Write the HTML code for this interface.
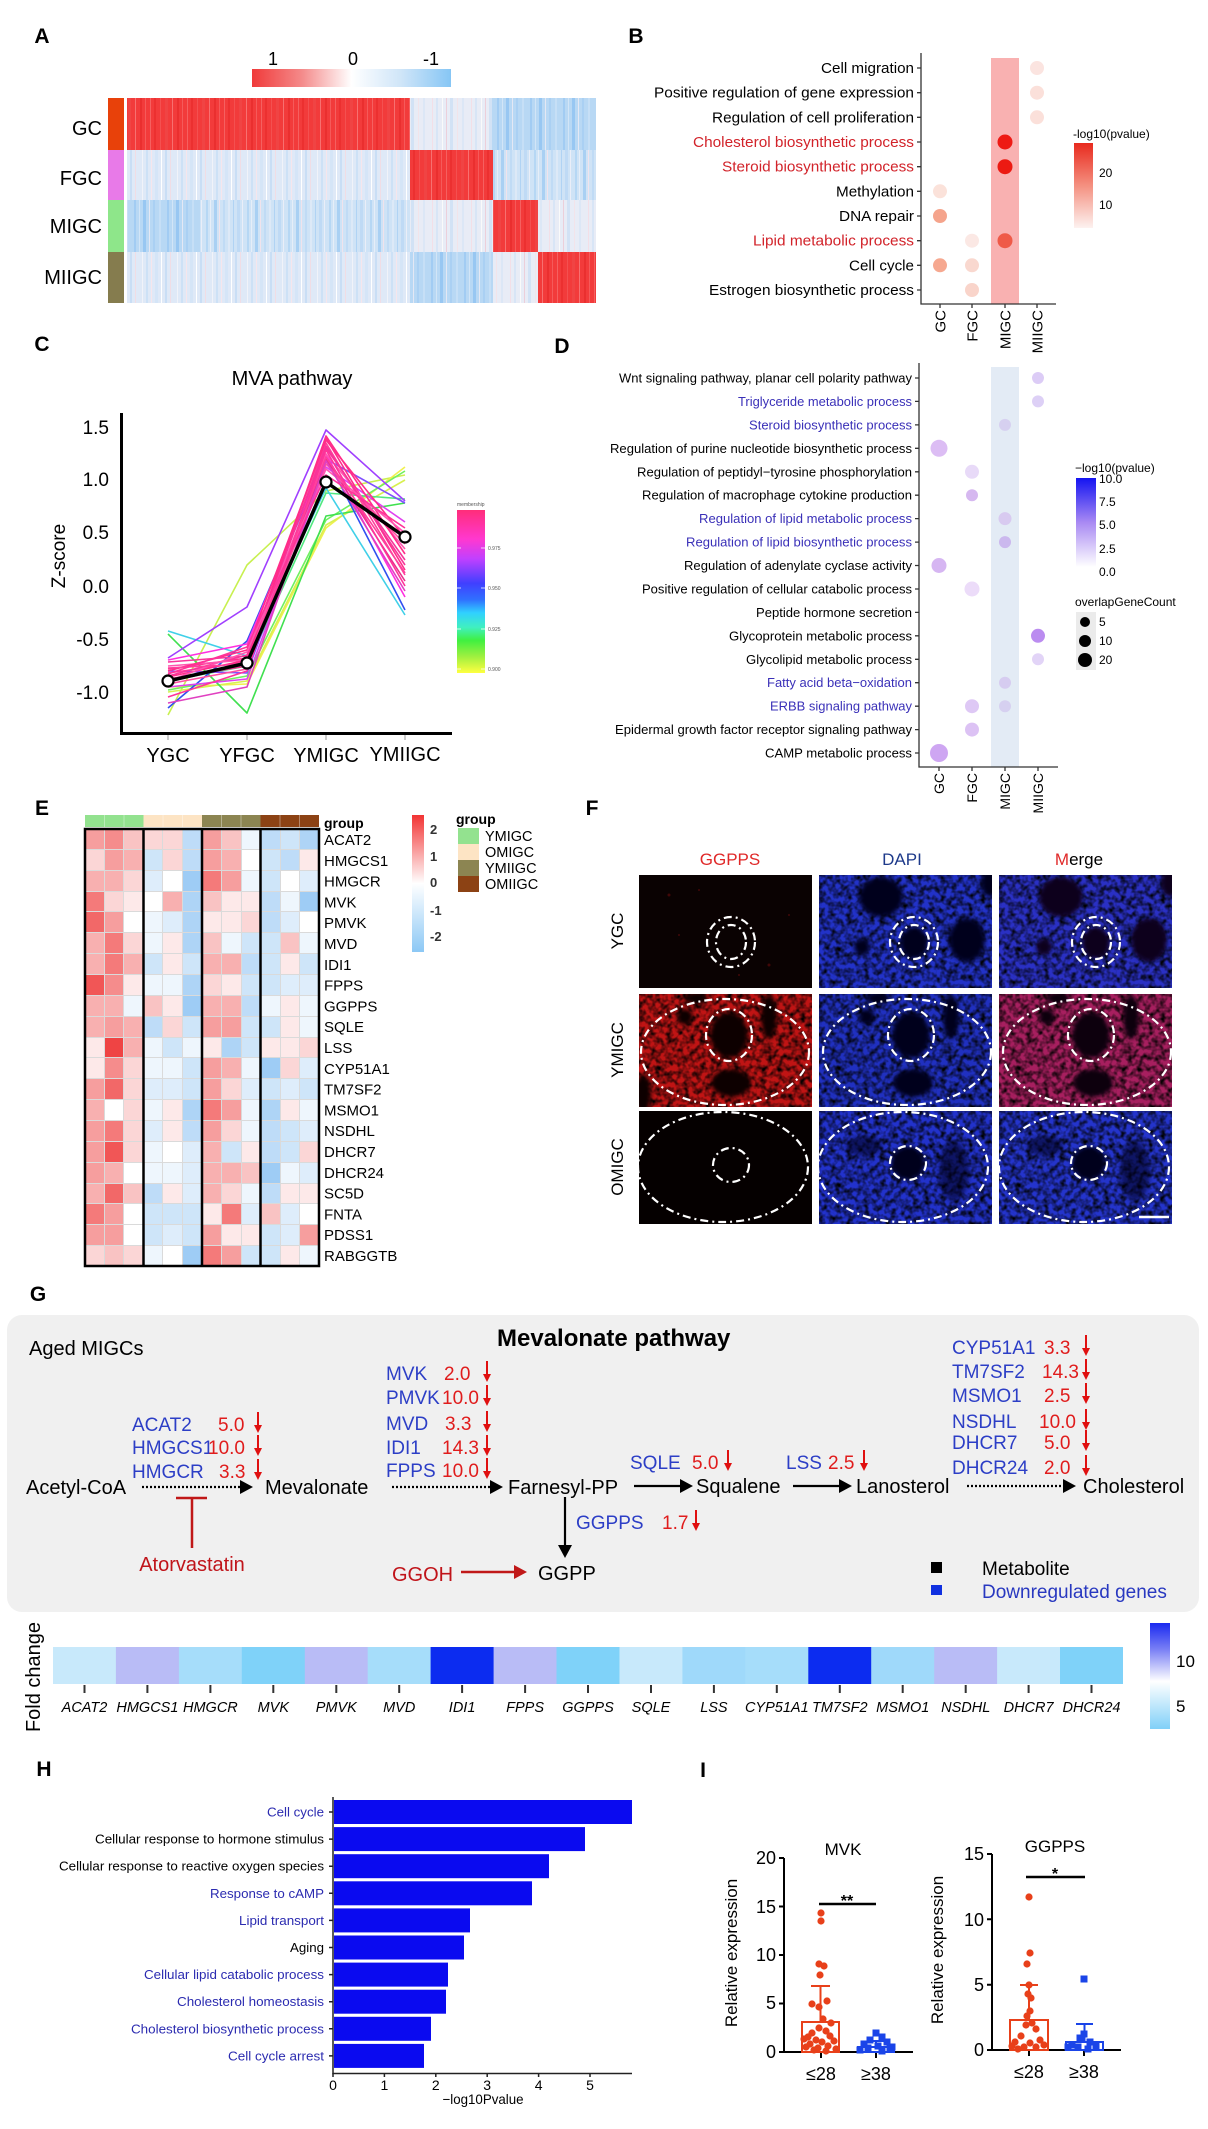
<!DOCTYPE html>
<html><head><meta charset="utf-8">
<style>
html,body{margin:0;padding:0;background:#fff;}
body{width:1208px;height:2129px;position:relative;overflow:hidden;font-family:"Liberation Sans",Arial,sans-serif;}
#eh{position:absolute;left:85px;top:829px;width:234px;height:437px;display:grid;grid-template-columns:repeat(12,1fr);grid-template-rows:repeat(21,1fr);gap:1px;background:#dadada;}
#eh i{display:block;background:#fff;}
#eh .z{background:#ffffff}
#eh .a{background:#fde9e9}#eh .b{background:#fbd6d6}#eh .c{background:#f9c3c3}#eh .d{background:#f8b0b0}#eh .e{background:#f69e9e}
#eh .f{background:#f58c8c}#eh .g{background:#f47a7a}#eh .h{background:#f26868}#eh .i{background:#f15656}#eh .j{background:#ef4444}
#eh .k{background:#eef6fd}#eh .l{background:#deedfb}#eh .m{background:#cee5f9}#eh .n{background:#bedcf8}#eh .o{background:#aed4f6}#eh .p{background:#9eccf5}#eh .q{background:#8ec4f3}
svg{position:absolute;left:0;top:0;}
</style></head><body>

<div id="eh">
<i class=e></i><i class=f></i><i class=c></i><i class=b></i><i class=b></i><i class=n></i><i class=e></i><i class=c></i><i class=k></i><i class=n></i><i class=m></i><i class=o></i>
<i class=b></i><i class=e></i><i class=d></i><i class=m></i><i class=b></i><i class=n></i><i class=e></i><i class=d></i><i class=z></i><i class=m></i><i class=n></i><i class=a></i>
<i class=d></i><i class=d></i><i class=b></i><i class=l></i><i class=z></i><i class=p></i><i class=g></i><i class=e></i><i class=k></i><i class=m></i><i class=z></i><i class=l></i>
<i class=g></i><i class=b></i><i class=a></i><i class=z></i><i class=d></i><i class=o></i><i class=c></i><i class=a></i><i class=a></i><i class=n></i><i class=k></i><i class=p></i>
<i class=h></i><i class=e></i><i class=z></i><i class=k></i><i class=l></i><i class=o></i><i class=a></i><i class=a></i><i class=b></i><i class=n></i><i class=l></i><i class=z></i>
<i class=d></i><i class=g></i><i class=b></i><i class=k></i><i class=a></i><i class=o></i><i class=c></i><i class=k></i><i class=m></i><i class=m></i><i class=c></i><i class=k></i>
<i class=d></i><i class=g></i><i class=d></i><i class=m></i><i class=a></i><i class=m></i><i class=d></i><i class=d></i><i class=n></i><i class=m></i><i class=a></i><i class=m></i>
<i class=i></i><i class=f></i><i class=a></i><i class=k></i><i class=k></i><i class=o></i><i class=b></i><i class=a></i><i class=m></i><i class=m></i><i class=l></i><i class=l></i>
<i class=d></i><i class=d></i><i class=k></i><i class=c></i><i class=a></i><i class=p></i><i class=d></i><i class=d></i><i class=n></i><i class=k></i><i class=a></i><i class=k></i>
<i class=d></i><i class=e></i><i class=d></i><i class=n></i><i class=b></i><i class=m></i><i class=e></i><i class=e></i><i class=m></i><i class=m></i><i class=a></i><i class=k></i>
<i class=a></i><i class=j></i><i class=d></i><i class=k></i><i class=m></i><i class=k></i><i class=a></i><i class=o></i><i class=m></i><i class=a></i><i class=a></i><i class=b></i>
<i class=a></i><i class=f></i><i class=b></i><i class=k></i><i class=k></i><i class=m></i><i class=e></i><i class=d></i><i class=k></i><i class=p></i><i class=b></i><i class=l></i>
<i class=e></i><i class=h></i><i class=b></i><i class=l></i><i class=l></i><i class=m></i><i class=e></i><i class=b></i><i class=l></i><i class=m></i><i class=l></i><i class=m></i>
<i class=d></i><i class=z></i><i class=b></i><i class=k></i><i class=a></i><i class=o></i><i class=g></i><i class=e></i><i class=k></i><i class=o></i><i class=a></i><i class=k></i>
<i class=e></i><i class=g></i><i class=b></i><i class=l></i><i class=a></i><i class=n></i><i class=e></i><i class=b></i><i class=k></i><i class=n></i><i class=m></i><i class=l></i>
<i class=e></i><i class=i></i><i class=b></i><i class=k></i><i class=z></i><i class=l></i><i class=d></i><i class=m></i><i class=a></i><i class=n></i><i class=m></i><i class=b></i>
<i class=e></i><i class=d></i><i class=z></i><i class=k></i><i class=k></i><i class=l></i><i class=d></i><i class=d></i><i class=c></i><i class=p></i><i class=k></i><i class=l></i>
<i class=d></i><i class=h></i><i class=c></i><i class=n></i><i class=a></i><i class=l></i><i class=d></i><i class=b></i><i class=k></i><i class=n></i><i class=a></i><i class=a></i>
<i class=g></i><i class=e></i><i class=z></i><i class=m></i><i class=m></i><i class=m></i><i class=a></i><i class=g></i><i class=l></i><i class=c></i><i class=l></i><i class=z></i>
<i class=e></i><i class=e></i><i class=z></i><i class=m></i><i class=l></i><i class=m></i><i class=e></i><i class=a></i><i class=a></i><i class=m></i><i class=l></i><i class=e></i>
<i class=b></i><i class=c></i><i class=b></i><i class=k></i><i class=z></i><i class=p></i><i class=g></i><i class=e></i><i class=m></i><i class=m></i><i class=a></i><i class=k></i>
</div>

<svg width="1208" height="2129" viewBox="0 0 1208 2129" xmlns="http://www.w3.org/2000/svg" font-family="'Liberation Sans', Arial, sans-serif">
<defs>
 <pattern id="pR" width="37" height="10" patternUnits="userSpaceOnUse">
  <rect width="37" height="10" fill="#f23b3b"/>
  <rect x="2" width="1" height="10" fill="#f56060"/><rect x="6" width="2" height="10" fill="#ec3030"/>
  <rect x="12" width="1" height="10" fill="#f45050"/><rect x="17" width="3" height="10" fill="#f04444"/>
  <rect x="24" width="1" height="10" fill="#f77070"/><rect x="29" width="2" height="10" fill="#ea2f2f"/>
  <rect x="34" width="1" height="10" fill="#f55a5a"/>
 </pattern>
 <pattern id="pB" width="41" height="10" patternUnits="userSpaceOnUse">
  <rect width="41" height="10" fill="#cfe3f6"/>
  <rect x="1" width="2" height="10" fill="#b6d7f4"/><rect x="5" width="1" height="10" fill="#e6eef8"/>
  <rect x="9" width="3" height="10" fill="#a9d0f3"/><rect x="14" width="1" height="10" fill="#f0e3ec"/>
  <rect x="18" width="2" height="10" fill="#c0dbf5"/><rect x="23" width="2" height="10" fill="#dde9f7"/>
  <rect x="28" width="1" height="10" fill="#b0d3f4"/><rect x="32" width="3" height="10" fill="#bfdaf5"/>
  <rect x="37" width="1" height="10" fill="#eaeef8"/>
 </pattern>
 <pattern id="pBs" width="33" height="10" patternUnits="userSpaceOnUse">
  <rect width="33" height="10" fill="#b8d8f4"/>
  <rect x="2" width="2" height="10" fill="#a2ccf3"/><rect x="7" width="1" height="10" fill="#d2e5f7"/>
  <rect x="11" width="3" height="10" fill="#98c7f2"/><rect x="17" width="1" height="10" fill="#e4e8f4"/>
  <rect x="21" width="2" height="10" fill="#aad0f3"/><rect x="27" width="2" height="10" fill="#c6dff6"/>
 </pattern>
 <pattern id="pP" width="39" height="10" patternUnits="userSpaceOnUse">
  <rect width="39" height="10" fill="#e8ecf6"/>
  <rect x="3" width="1" height="10" fill="#f3dfe7"/><rect x="7" width="2" height="10" fill="#d8e5f6"/>
  <rect x="13" width="1" height="10" fill="#fafafa"/><rect x="17" width="1" height="10" fill="#eccfda"/>
  <rect x="21" width="3" height="10" fill="#d2e2f5"/><rect x="28" width="1" height="10" fill="#f2e4ea"/>
  <rect x="33" width="2" height="10" fill="#dce7f6"/>
 </pattern>
 <pattern id="pW" width="35" height="10" patternUnits="userSpaceOnUse">
  <rect width="35" height="10" fill="#dfe9f7"/>
  <rect x="2" width="1" height="10" fill="#f1f3f9"/><rect x="6" width="2" height="10" fill="#cde1f6"/>
  <rect x="11" width="1" height="10" fill="#f6e6ec"/><rect x="15" width="3" height="10" fill="#d5e5f7"/>
  <rect x="21" width="1" height="10" fill="#ffffff"/><rect x="25" width="2" height="10" fill="#c9def5"/>
  <rect x="30" width="1" height="10" fill="#f0dde5"/>
 </pattern>
 <linearGradient id="gA" x1="0" y1="0" x2="1" y2="0">
  <stop offset="0" stop-color="#f03a3a"/><stop offset="0.25" stop-color="#f48a8a"/><stop offset="0.5" stop-color="#ffffff"/><stop offset="0.75" stop-color="#cfe5f8"/><stop offset="1" stop-color="#86c6f5"/>
 </linearGradient>
 <linearGradient id="gB" x1="0" y1="0" x2="0" y2="1">
  <stop offset="0" stop-color="#e82a1e"/><stop offset="0.5" stop-color="#f49080"/><stop offset="1" stop-color="#fdf2f0"/>
 </linearGradient>
 <linearGradient id="gD" x1="0" y1="0" x2="0" y2="1">
  <stop offset="0" stop-color="#1414f2"/><stop offset="0.5" stop-color="#a98af3"/><stop offset="1" stop-color="#ffffff"/>
 </linearGradient>
 <linearGradient id="gC" x1="0" y1="0" x2="0" y2="1">
  <stop offset="0" stop-color="#ff2d7a"/><stop offset="0.18" stop-color="#ff38d0"/><stop offset="0.3" stop-color="#c040ff"/><stop offset="0.45" stop-color="#4040ff"/><stop offset="0.55" stop-color="#3070ff"/><stop offset="0.63" stop-color="#30d0ff"/><stop offset="0.72" stop-color="#40f0c0"/><stop offset="0.8" stop-color="#40f040"/><stop offset="0.9" stop-color="#a0f040"/><stop offset="1" stop-color="#ffff40"/>
 </linearGradient>
 <linearGradient id="gE" x1="0" y1="0" x2="0" y2="1">
  <stop offset="0" stop-color="#f23434"/><stop offset="0.5" stop-color="#ffffff"/><stop offset="1" stop-color="#8cc8f5"/>
 </linearGradient>
 <linearGradient id="gG" x1="0" y1="0" x2="0" y2="1">
  <stop offset="0" stop-color="#1a2af0"/><stop offset="0.25" stop-color="#7a80f5"/><stop offset="0.55" stop-color="#ffffff"/><stop offset="1" stop-color="#80d0f8"/>
 </linearGradient>
 <filter id="tex" x="0" y="0" width="1" height="1" filterUnits="objectBoundingBox">
  <feTurbulence type="fractalNoise" baseFrequency="0.18" numOctaves="2" seed="7"/>
  <feColorMatrix type="matrix" values="0 0 0 0 0  0 0 0 0 0  0 0 0 0 0  2.2 0 0 0 -0.8"/>
 </filter>
 <filter id="bl" x="-0.5" y="-0.5" width="2" height="2"><feGaussianBlur stdDeviation="2.5"/></filter>
</defs>

<!-- ============ PANEL A ============ -->
<text x="42" y="43" text-anchor="middle" font-size="21" font-weight="bold">A</text>
<rect x="252" y="69" width="199" height="18" fill="url(#gA)"/>
<g font-size="18" text-anchor="middle"><text x="273" y="65">1</text><text x="353" y="65">0</text><text x="431" y="65">-1</text></g>
<rect x="108" y="98" width="16" height="52" fill="#e8410a"/>
<rect x="108" y="150" width="16" height="50" fill="#e87ae8"/>
<rect x="108" y="200" width="16" height="52" fill="#8ee68a"/>
<rect x="108" y="252" width="16" height="51" fill="#857c4e"/>
<g font-size="20" text-anchor="end">
 <text x="102" y="135">GC</text><text x="102" y="185">FGC</text><text x="102" y="233">MIGC</text><text x="102" y="284">MIIGC</text>
</g>
<rect x="127" y="98" width="283" height="52" fill="url(#pR)"/>
<rect x="410" y="98" width="82" height="52" fill="url(#pP)"/>
<rect x="492" y="98" width="104" height="52" fill="url(#pBs)"/>
<rect x="127" y="150" width="283" height="50" fill="url(#pW)"/>
<rect x="410" y="150" width="83" height="50" fill="url(#pR)"/>
<rect x="493" y="150" width="103" height="50" fill="url(#pB)"/>
<rect x="127" y="200" width="73" height="52" fill="url(#pBs)"/>
<rect x="200" y="200" width="210" height="52" fill="url(#pB)"/>
<rect x="410" y="200" width="83" height="52" fill="url(#pP)"/>
<rect x="493" y="200" width="45" height="52" fill="url(#pR)"/>
<rect x="538" y="200" width="58" height="52" fill="url(#pP)"/>
<rect x="127" y="252" width="283" height="51" fill="url(#pW)"/>
<rect x="410" y="252" width="83" height="51" fill="url(#pBs)"/>
<rect x="493" y="252" width="45" height="51" fill="url(#pP)"/>
<rect x="538" y="252" width="58" height="51" fill="url(#pR)"/>

<!-- ============ PANEL B ============ -->
<text x="636" y="43" text-anchor="middle" font-size="21" font-weight="bold">B</text>
<rect x="991" y="58" width="28" height="246" fill="#f9b1b1"/>
<g stroke="#333" stroke-width="1.3" fill="none">
 <path d="M921 53 V304 H1056"/>
 <path d="M917 68H921M917 92.7H921M917 117.3H921M917 142H921M917 166.7H921M917 191.3H921M917 216H921M917 240.7H921M917 265.3H921M917 290H921"/>
 <path d="M940 304V308M972 304V308M1005 304V308M1037 304V308"/>
</g>
<g font-size="15" text-anchor="end">
 <text x="914" y="73" textLength="93" lengthAdjust="spacingAndGlyphs">Cell migration</text>
 <text x="914" y="97.7" textLength="260" lengthAdjust="spacingAndGlyphs">Positive regulation of gene expression</text>
 <text x="914" y="122.3" textLength="202" lengthAdjust="spacingAndGlyphs">Regulation of cell proliferation</text>
 <text x="914" y="147" textLength="221" lengthAdjust="spacingAndGlyphs" fill="#d2232a">Cholesterol biosynthetic process</text>
 <text x="914" y="171.7" textLength="192" lengthAdjust="spacingAndGlyphs" fill="#d2232a">Steroid biosynthetic process</text>
 <text x="914" y="196.3" textLength="78" lengthAdjust="spacingAndGlyphs">Methylation</text>
 <text x="914" y="221" textLength="75" lengthAdjust="spacingAndGlyphs">DNA repair</text>
 <text x="914" y="245.7" textLength="161" lengthAdjust="spacingAndGlyphs" fill="#d2232a">Lipid metabolic process</text>
 <text x="914" y="270.3" textLength="65" lengthAdjust="spacingAndGlyphs">Cell cycle</text>
 <text x="914" y="295" textLength="205" lengthAdjust="spacingAndGlyphs">Estrogen biosynthetic process</text>
</g>
<g>
 <circle cx="1037" cy="68" r="7" fill="#fbe4e0"/>
 <circle cx="1037" cy="92.7" r="7" fill="#fbe0da"/>
 <circle cx="1037" cy="117.3" r="7" fill="#fbe0da"/>
 <circle cx="1005" cy="142" r="7.5" fill="#ee1a14"/>
 <circle cx="1005" cy="166.7" r="7.5" fill="#ec1a12"/>
 <circle cx="940" cy="191.3" r="7" fill="#fbe2da"/>
 <circle cx="940" cy="216" r="7" fill="#f5a48c"/>
 <circle cx="972" cy="240.7" r="7" fill="#fbe8e4"/>
 <circle cx="1005" cy="240.7" r="7.5" fill="#ef5a48"/>
 <circle cx="940" cy="265.3" r="7" fill="#f6a890"/>
 <circle cx="972" cy="265.3" r="7" fill="#f9d8cf"/>
 <circle cx="972" cy="290" r="7" fill="#f9d4ca"/>
</g>
<g font-size="15" text-anchor="end">
 <text transform="translate(945.5,310) rotate(-90)">GC</text>
 <text transform="translate(977.5,310) rotate(-90)">FGC</text>
 <text transform="translate(1010.5,310) rotate(-90)">MIGC</text>
 <text transform="translate(1042.5,310) rotate(-90)">MIIGC</text>
</g>
<text x="1073" y="138" font-size="12">-log10(pvalue)</text>
<rect x="1074" y="143" width="19" height="85" fill="url(#gB)"/>
<g font-size="12"><text x="1099" y="177">20</text><text x="1099" y="209">10</text></g>

<!-- ============ PANEL C ============ -->
<text x="42" y="351" text-anchor="middle" font-size="21" font-weight="bold">C</text>
<text x="292" y="385" text-anchor="middle" font-size="20">MVA pathway</text>
<g font-size="19" text-anchor="end">
 <text x="109" y="434">1.5</text><text x="109" y="486">1.0</text><text x="109" y="539">0.5</text>
 <text x="109" y="593">0.0</text><text x="109" y="646">-0.5</text><text x="109" y="699">-1.0</text>
</g>
<text transform="translate(65,556) rotate(-90)" text-anchor="middle" font-size="19">Z-score</text>
<g fill="none" stroke-width="1.6" stroke-linejoin="round">
 <polyline stroke="#c8f050" points="168,715 247,565 326,491 405,475"/>
 <polyline stroke="#f0f050" points="168,687 247,684 326,528 405,467"/>
 <polyline stroke="#70f060" points="168,690 247,676 326,520 405,471"/>
 <polyline stroke="#d8f050" points="168,692 247,681 326,525 405,480"/>
 <polyline stroke="#50e880" points="168,681 247,666 326,493 405,499"/>
 <polyline stroke="#40e050" points="168,634 247,713 326,516 405,503"/>
 <polyline stroke="#40d0e8" points="168,631 247,656 326,488 405,615"/>
 <polyline stroke="#3050f0" points="168,708 247,641 326,457 405,610"/>
 <polyline stroke="#8050ff" points="168,671 247,673 326,459 405,503"/>
 <polyline stroke="#a040ff" points="168,658 247,607 326,430 405,501"/>
 <polyline stroke="#e040f0" points="168,687 247,679 326,467 405,522"/>
 <polyline stroke="#ff30e0" points="168,660 247,644 326,454 405,597"/>
 <polyline stroke="#ff2d8a" points="168,669 247,658 326,438 405,570"/>
 <polyline stroke="#ff3f9c" points="168,673 247,662 326,443 405,575"/>
 <polyline stroke="#f7359a" points="168,676 247,655 326,448 405,560"/>
 <polyline stroke="#ff55b0" points="168,666 247,660 326,454 405,549"/>
 <polyline stroke="#e8308c" points="168,679 247,666 326,459 405,581"/>
 <polyline stroke="#ff2d8a" points="168,671 247,650 326,440 405,538"/>
 <polyline stroke="#ff4fa0" points="168,684 247,669 326,464 405,544"/>
 <polyline stroke="#f7359a" points="168,662 247,656 326,446 405,565"/>
 <polyline stroke="#ff3399" points="168,697 247,671 326,450 405,586"/>
 <polyline stroke="#ff2d8a" points="168,677 247,660 326,436 405,554"/>
 <polyline stroke="#ff55b0" points="168,681 247,652 326,469 405,533"/>
 <polyline stroke="#ff3f9c" points="168,668 247,664 326,457 405,573"/>
 <polyline stroke="#e040c0" points="168,703 247,687 326,461 405,591"/>
 <polyline stroke="#ff3399" points="168,674 247,647 326,475 405,528"/>
</g>
<polyline fill="none" stroke="#000" stroke-width="3.5" points="168,681 247,663 326,482 405,537"/>
<g fill="#fff" stroke="#000" stroke-width="2.2">
 <circle cx="168" cy="681" r="5.5"/><circle cx="247" cy="663" r="5.5"/><circle cx="326" cy="482" r="5.5"/><circle cx="405" cy="537" r="5.5"/>
</g>
<path d="M121.5 413 V733.5 H452" fill="none" stroke="#000" stroke-width="3"/>
<g stroke="#999" stroke-width="1"><path d="M168 735V740M247 735V740M326 735V740M405 735V740"/></g>
<g font-size="20" text-anchor="middle">
 <text x="168" y="762">YGC</text><text x="247" y="762">YFGC</text><text x="326" y="762">YMIGC</text><text x="405" y="761">YMIIGC</text>
</g>
<text x="457" y="506" font-size="5" fill="#555">membership</text>
<rect x="457" y="510" width="28" height="163" fill="url(#gC)"/>
<g stroke="#fff" stroke-width="0.8"><path d="M457 548h4M481 548h4M457 588h4M481 588h4M457 629h4M481 629h4M457 669h4M481 669h4"/></g>
<g font-size="5" fill="#555"><text x="488" y="550">0.975</text><text x="488" y="590">0.950</text><text x="488" y="631">0.925</text><text x="488" y="671">0.900</text></g>

<!-- ============ PANEL D ============ -->
<text x="562" y="353" text-anchor="middle" font-size="21" font-weight="bold">D</text>
<rect x="991" y="367" width="28" height="400" fill="#e3ebf5"/>
<g stroke="#333" stroke-width="1.3" fill="none">
 <path d="M919 363 V767 H1058"/>
 <path d="M915 378h4M915 401.4h4M915 424.9h4M915 448.3h4M915 471.8h4M915 495.2h4M915 518.6h4M915 542.1h4M915 565.5h4M915 589h4M915 612.4h4M915 635.8h4M915 659.3h4M915 682.7h4M915 706.2h4M915 729.6h4M915 753h4"/>
 <path d="M939 767v4M972 767v4M1005 767v4M1038 767v4"/>
</g>
<g font-size="13" text-anchor="end">
 <text x="912" y="382.5" textLength="293" lengthAdjust="spacingAndGlyphs">Wnt signaling pathway, planar cell polarity pathway</text>
 <text x="912" y="405.9" textLength="174" lengthAdjust="spacingAndGlyphs" fill="#3a30b8">Triglyceride metabolic process</text>
 <text x="912" y="429.4" textLength="163" lengthAdjust="spacingAndGlyphs" fill="#3a30b8">Steroid biosynthetic process</text>
 <text x="912" y="452.8" textLength="302" lengthAdjust="spacingAndGlyphs">Regulation of purine nucleotide biosynthetic process</text>
 <text x="912" y="476.3" textLength="275" lengthAdjust="spacingAndGlyphs">Regulation of peptidyl−tyrosine phosphorylation</text>
 <text x="912" y="499.7" textLength="270" lengthAdjust="spacingAndGlyphs">Regulation of macrophage cytokine production</text>
 <text x="912" y="523.1" textLength="213" lengthAdjust="spacingAndGlyphs" fill="#3a30b8">Regulation of lipid metabolic process</text>
 <text x="912" y="546.6" textLength="226" lengthAdjust="spacingAndGlyphs" fill="#3a30b8">Regulation of lipid biosynthetic process</text>
 <text x="912" y="570" textLength="228" lengthAdjust="spacingAndGlyphs">Regulation of adenylate cyclase activity</text>
 <text x="912" y="593.5" textLength="270" lengthAdjust="spacingAndGlyphs">Positive regulation of cellular catabolic process</text>
 <text x="912" y="616.9" textLength="156" lengthAdjust="spacingAndGlyphs">Peptide hormone secretion</text>
 <text x="912" y="640.3" textLength="183" lengthAdjust="spacingAndGlyphs">Glycoprotein metabolic process</text>
 <text x="912" y="663.8" textLength="166" lengthAdjust="spacingAndGlyphs">Glycolipid metabolic process</text>
 <text x="912" y="687.2" textLength="145" lengthAdjust="spacingAndGlyphs" fill="#3a30b8">Fatty acid beta−oxidation</text>
 <text x="912" y="710.7" textLength="142" lengthAdjust="spacingAndGlyphs" fill="#3a30b8">ERBB signaling pathway</text>
 <text x="912" y="734.1" textLength="297" lengthAdjust="spacingAndGlyphs">Epidermal growth factor receptor signaling pathway</text>
 <text x="912" y="757.5" textLength="147" lengthAdjust="spacingAndGlyphs">CAMP metabolic process</text>
</g>
<g>
 <circle cx="1038" cy="378" r="6" fill="#dcccf6"/>
 <circle cx="1038" cy="401.4" r="6" fill="#ddd0f6"/>
 <circle cx="1005" cy="424.9" r="6" fill="#d6d0f0"/>
 <circle cx="939" cy="448.3" r="8.5" fill="#dcbdf4"/>
 <circle cx="972" cy="471.8" r="7" fill="#e8daf8"/>
 <circle cx="972" cy="495.2" r="6" fill="#d6b8f0"/>
 <circle cx="1005" cy="518.6" r="6.5" fill="#d8caf0"/>
 <circle cx="1005" cy="542.1" r="6" fill="#cbb8ee"/>
 <circle cx="939" cy="565.5" r="7.5" fill="#d6b6f2"/>
 <circle cx="972" cy="589" r="7.5" fill="#ecdcf9"/>
 <circle cx="1038" cy="635.8" r="7" fill="#bb8cf0"/>
 <circle cx="1038" cy="659.3" r="6" fill="#e2d4f7"/>
 <circle cx="1005" cy="682.7" r="6" fill="#d6ccf0"/>
 <circle cx="972" cy="706.2" r="7" fill="#dec8f5"/>
 <circle cx="1005" cy="706.2" r="6" fill="#d6d0f0"/>
 <circle cx="972" cy="729.6" r="7" fill="#dcc2f4"/>
 <circle cx="939" cy="753" r="9" fill="#cea6f2"/>
</g>
<g font-size="14" text-anchor="end">
 <text transform="translate(944,773) rotate(-90)">GC</text>
 <text transform="translate(977,773) rotate(-90)">FGC</text>
 <text transform="translate(1010,773) rotate(-90)">MIGC</text>
 <text transform="translate(1043,773) rotate(-90)">MIIGC</text>
</g>
<text x="1075" y="472" font-size="12">−log10(pvalue)</text>
<rect x="1076" y="478" width="20" height="89" fill="url(#gD)"/>
<g font-size="12"><text x="1099" y="483">10.0</text><text x="1099" y="506">7.5</text><text x="1099" y="529">5.0</text><text x="1099" y="553">2.5</text><text x="1099" y="576">0.0</text></g>
<text x="1075" y="606" font-size="12">overlapGeneCount</text>
<rect x="1076" y="612" width="20" height="58" fill="#ebebeb"/>
<circle cx="1085" cy="622" r="5" fill="#000"/><circle cx="1085" cy="641" r="6" fill="#000"/><circle cx="1085" cy="660" r="7" fill="#000"/>
<g font-size="12"><text x="1099" y="626">5</text><text x="1099" y="645">10</text><text x="1099" y="664">20</text></g>

<!-- ============ PANEL E ============ -->
<text x="42" y="815" text-anchor="middle" font-size="21" font-weight="bold">E</text>
<g>
 <rect x="85" y="815" width="19.5" height="12" fill="#93e28f"/><rect x="104.5" y="815" width="19.5" height="12" fill="#93e28f"/><rect x="124" y="815" width="19.5" height="12" fill="#93e28f"/>
 <rect x="143.5" y="815" width="19.5" height="12" fill="#fde4c4"/><rect x="163" y="815" width="19.5" height="12" fill="#fde4c4"/><rect x="182.5" y="815" width="19.5" height="12" fill="#fde4c4"/>
 <rect x="202" y="815" width="19.5" height="12" fill="#8c8552"/><rect x="221.5" y="815" width="19.5" height="12" fill="#8c8552"/><rect x="241" y="815" width="19.5" height="12" fill="#8c8552"/>
 <rect x="260.5" y="815" width="19.5" height="12" fill="#8c4214"/><rect x="280" y="815" width="19.5" height="12" fill="#8c4214"/><rect x="299.5" y="815" width="19.5" height="12" fill="#8c4214"/>
 <path d="M104.5 815v12M124 815v12M163 815v12M182.5 815v12M221.5 815v12M241 815v12M280 815v12M299.5 815v12" stroke="#fff" stroke-width="0.6" opacity="0.6"/>
</g>
<text x="324" y="828" font-size="14" font-weight="bold">group</text>
<rect x="85" y="829" width="234" height="437" fill="none" stroke="#000" stroke-width="2.5"/>
<path d="M143.5 829V1266M202 829V1266M260.5 829V1266" stroke="#000" stroke-width="2.5"/>
<g font-size="15">
 <text x="324" y="845">ACAT2</text><text x="324" y="866">HMGCS1</text><text x="324" y="886.5">HMGCR</text>
 <text x="324" y="907.5">MVK</text><text x="324" y="928">PMVK</text><text x="324" y="949">MVD</text>
 <text x="324" y="970">IDI1</text><text x="324" y="990.5">FPPS</text><text x="324" y="1011.5">GGPPS</text>
 <text x="324" y="1032">SQLE</text><text x="324" y="1053">LSS</text><text x="324" y="1074">CYP51A1</text>
 <text x="324" y="1094.5">TM7SF2</text><text x="324" y="1115.5">MSMO1</text><text x="324" y="1136">NSDHL</text>
 <text x="324" y="1157">DHCR7</text><text x="324" y="1178">DHCR24</text><text x="324" y="1198.5">SC5D</text>
 <text x="324" y="1219.5">FNTA</text><text x="324" y="1240">PDSS1</text><text x="324" y="1261">RABGGTB</text>
</g>
<rect x="412" y="815" width="12" height="137" fill="url(#gE)"/>
<g font-size="13" font-weight="bold" fill="#333"><text x="430" y="834">2</text><text x="430" y="861">1</text><text x="430" y="887">0</text><text x="430" y="915">-1</text><text x="430" y="941">-2</text></g>
<text x="456" y="824" font-size="14" font-weight="bold">group</text>
<rect x="458" y="828" width="21" height="16" fill="#93e28f"/>
<rect x="458" y="844" width="21" height="16" fill="#fde4c4"/>
<rect x="458" y="860" width="21" height="16" fill="#8c8552"/>
<rect x="458" y="876" width="21" height="16" fill="#8c4214"/>
<g font-size="14.5"><text x="485" y="841">YMIGC</text><text x="485" y="857">OMIGC</text><text x="485" y="873">YMIIGC</text><text x="485" y="889">OMIIGC</text></g>

<!-- ============ PANEL F ============ -->
<text x="592" y="815" text-anchor="middle" font-size="21" font-weight="bold">F</text>
<g font-size="17" text-anchor="middle">
 <text x="730" y="865" fill="#e02828">GGPPS</text>
 <text x="902" y="865" fill="#1e3a8a">DAPI</text>
 <text x="1079" y="865"><tspan fill="#e02828">M</tspan>erge</text>
 <text transform="translate(623,931) rotate(-90)">YGC</text>
 <text transform="translate(623,1050) rotate(-90)">YMIGC</text>
 <text transform="translate(623,1167) rotate(-90)">OMIGC</text>
</g>
<!-- row1 -->
<svg x="639" y="875" width="173" height="113">
 <rect width="173" height="113" fill="#0a0202"/>
 <g fill="#5a0a0a" opacity="0.7"><circle cx="30" cy="20" r="1.5"/><circle cx="60" cy="15" r="1"/><circle cx="40" cy="60" r="1"/><circle cx="130" cy="90" r="1.5"/><circle cx="150" cy="40" r="1"/><circle cx="100" cy="100" r="1"/></g>
 <g fill="none" stroke="#fff" stroke-width="2.2" stroke-dasharray="8 4 2 4"><ellipse cx="92" cy="67" rx="24" ry="25"/><ellipse cx="92" cy="67" rx="15" ry="17"/></g>
</svg>
<svg x="819" y="875" width="173" height="113">
 <rect width="173" height="113" fill="#2232c8"/>
 <rect width="173" height="113" filter="url(#tex)"/>
 <g fill="#05051a" filter="url(#bl)"><ellipse cx="62" cy="22" rx="22" ry="20"/><ellipse cx="95" cy="68" rx="14" ry="16"/><ellipse cx="148" cy="65" rx="18" ry="22"/><ellipse cx="43" cy="72" rx="8" ry="8"/><ellipse cx="172" cy="8" rx="10" ry="14"/></g>
 <g fill="none" stroke="#fff" stroke-width="2.2" stroke-dasharray="8 4 2 4"><ellipse cx="95" cy="67" rx="24" ry="25"/><ellipse cx="95" cy="67" rx="15" ry="17"/></g>
</svg>
<svg x="999" y="875" width="173" height="113">
 <rect width="173" height="113" fill="#2a30c4"/>
 <rect width="173" height="113" filter="url(#tex)"/>
 <g fill="#08051a" filter="url(#bl)"><ellipse cx="62" cy="22" rx="22" ry="20"/><ellipse cx="97" cy="68" rx="14" ry="16"/><ellipse cx="150" cy="65" rx="18" ry="22"/><ellipse cx="45" cy="72" rx="8" ry="8"/><ellipse cx="172" cy="8" rx="10" ry="14"/></g>
 <g fill="none" stroke="#fff" stroke-width="2.2" stroke-dasharray="8 4 2 4"><ellipse cx="97" cy="67" rx="24" ry="25"/><ellipse cx="97" cy="67" rx="15" ry="17"/></g>
</svg>
<!-- row2 -->
<svg x="639" y="994" width="173" height="113">
 <rect width="173" height="113" fill="#c01414"/>
 <rect width="173" height="113" filter="url(#tex)"/>
 <g fill="#0a0000" filter="url(#bl)"><ellipse cx="90" cy="41" rx="19" ry="23"/><ellipse cx="92" cy="89" rx="20" ry="14"/><ellipse cx="130" cy="23" rx="8" ry="22"/><ellipse cx="46" cy="23" rx="8" ry="8"/><ellipse cx="57" cy="4" rx="12" ry="6"/><ellipse cx="4" cy="100" rx="8" ry="20"/></g>
 <g fill="none" stroke="#fff" stroke-width="2.2" stroke-dasharray="8 4 2 4"><ellipse cx="86" cy="58" rx="84" ry="53"/><ellipse cx="90" cy="41" rx="23" ry="26"/></g>
</svg>
<svg x="819" y="994" width="173" height="113">
 <rect width="173" height="113" fill="#2030c0"/>
 <rect width="173" height="113" filter="url(#tex)"/>
 <g fill="#05051a" filter="url(#bl)"><ellipse cx="92" cy="41" rx="19" ry="23"/><ellipse cx="94" cy="89" rx="20" ry="14"/><ellipse cx="132" cy="23" rx="8" ry="22"/><ellipse cx="48" cy="23" rx="8" ry="8"/><ellipse cx="59" cy="4" rx="12" ry="6"/></g>
 <g fill="none" stroke="#fff" stroke-width="2.2" stroke-dasharray="8 4 2 4"><ellipse cx="88" cy="58" rx="84" ry="53"/><ellipse cx="92" cy="41" rx="23" ry="26"/></g>
</svg>
<svg x="999" y="994" width="173" height="113">
 <rect width="173" height="113" fill="#9a2070"/>
 <rect width="173" height="113" fill="#c02040" opacity="0.35"/>
 <rect width="173" height="113" filter="url(#tex)"/>
 <g fill="#0a0008" filter="url(#bl)"><ellipse cx="92" cy="41" rx="19" ry="23"/><ellipse cx="94" cy="89" rx="20" ry="14"/><ellipse cx="132" cy="23" rx="8" ry="22"/><ellipse cx="48" cy="23" rx="8" ry="8"/><ellipse cx="59" cy="4" rx="12" ry="6"/></g>
 <g fill="none" stroke="#fff" stroke-width="2.2" stroke-dasharray="8 4 2 4"><ellipse cx="88" cy="58" rx="84" ry="53"/><ellipse cx="92" cy="41" rx="23" ry="26"/></g>
</svg>
<!-- row3 -->
<svg x="639" y="1111" width="173" height="113">
 <rect width="173" height="113" fill="#050000"/>
 <g fill="none" stroke="#fff" stroke-width="2.2" stroke-dasharray="8 4 2 4"><ellipse cx="84" cy="56" rx="85" ry="55"/><ellipse cx="92" cy="54" rx="18" ry="17"/></g>
</svg>
<svg x="819" y="1111" width="173" height="113">
 <rect width="173" height="113" fill="#2232cc"/>
 <rect width="173" height="113" filter="url(#tex)"/>
 <g fill="#05051a" filter="url(#bl)"><ellipse cx="89" cy="52" rx="17" ry="17"/><ellipse cx="45" cy="35" rx="18" ry="10" opacity="0.6"/><ellipse cx="135" cy="60" rx="15" ry="30" opacity="0.6"/></g>
 <g fill="none" stroke="#fff" stroke-width="2.2" stroke-dasharray="8 4 2 4"><ellipse cx="84" cy="56" rx="85" ry="55"/><ellipse cx="89" cy="52" rx="18" ry="17"/></g>
</svg>
<svg x="999" y="1111" width="173" height="113">
 <rect width="173" height="113" fill="#2434cc"/>
 <rect width="173" height="113" filter="url(#tex)"/>
 <g fill="#05051a" filter="url(#bl)"><ellipse cx="90" cy="52" rx="17" ry="17"/><ellipse cx="46" cy="35" rx="18" ry="10" opacity="0.6"/><ellipse cx="136" cy="60" rx="15" ry="30" opacity="0.6"/></g>
 <g fill="none" stroke="#fff" stroke-width="2.2" stroke-dasharray="8 4 2 4"><ellipse cx="85" cy="56" rx="85" ry="55"/><ellipse cx="90" cy="52" rx="18" ry="17"/></g>
 <line x1="140" y1="106" x2="170" y2="106" stroke="#fff" stroke-width="2.5"/>
</svg>

<!-- ============ PANEL G ============ -->
<text x="38" y="1301" text-anchor="middle" font-size="21" font-weight="bold">G</text>
<rect x="7" y="1315" width="1192" height="297" rx="15" fill="#f0f0f0"/>
<text x="497" y="1346" font-size="24" font-weight="bold">Mevalonate pathway</text>
<text x="29" y="1355" font-size="20">Aged MIGCs</text>
<g font-size="20">
 <text x="26" y="1494">Acetyl-CoA</text>
 <text x="265" y="1494">Mevalonate</text>
 <text x="508" y="1494">Farnesyl-PP</text>
 <text x="696" y="1493">Squalene</text>
 <text x="856" y="1493">Lanosterol</text>
 <text x="1083" y="1493">Cholesterol</text>
 <text x="538" y="1580">GGPP</text>
 <text x="392" y="1581" fill="#c0141a">GGOH</text>
 <text x="192" y="1571" text-anchor="middle" fill="#c0141a">Atorvastatin</text>
</g>
<g stroke="#000" stroke-width="2.2">
 <line x1="142" y1="1487" x2="241" y2="1487" stroke-dasharray="2 2"/>
 <line x1="392" y1="1487" x2="491" y2="1487" stroke-dasharray="2 2"/>
 <line x1="967" y1="1486" x2="1064" y2="1486" stroke-dasharray="2 2"/>
 <line x1="634" y1="1486" x2="681" y2="1486"/>
 <line x1="793" y1="1486" x2="840" y2="1486"/>
 <line x1="565" y1="1497" x2="565" y2="1546"/>
</g>
<g fill="#000">
 <polygon points="240,1480 253,1487 240,1494"/>
 <polygon points="490,1480 503,1487 490,1494"/>
 <polygon points="1063,1479 1076,1486 1063,1493"/>
 <polygon points="680,1479 693,1486 680,1493"/>
 <polygon points="839,1479 852,1486 839,1493"/>
 <polygon points="558,1545 572,1545 565,1558"/>
</g>
<g stroke="#c01818" stroke-width="2.5"><line x1="176" y1="1498" x2="207" y2="1498"/><line x1="192" y1="1498" x2="192" y2="1548"/><line x1="461" y1="1572" x2="515" y2="1572"/></g>
<polygon points="514,1565 527,1572 514,1579" fill="#c01818"/>
<g font-size="19" fill="#2c3ec6">
 <text x="132" y="1431">ACAT2</text><text x="132" y="1454">HMGCS1</text><text x="132" y="1478">HMGCR</text>
 <text x="386" y="1380">MVK</text><text x="386" y="1404">PMVK</text><text x="386" y="1430">MVD</text><text x="386" y="1454">IDI1</text><text x="386" y="1477">FPPS</text>
 <text x="952" y="1354">CYP51A1</text><text x="952" y="1378">TM7SF2</text><text x="952" y="1402">MSMO1</text><text x="952" y="1428">NSDHL</text><text x="952" y="1449">DHCR7</text><text x="952" y="1474">DHCR24</text>
 <text x="630" y="1469">SQLE</text><text x="786" y="1469">LSS</text><text x="576" y="1529">GGPPS</text>
</g>
<g font-size="19" fill="#e01c1c">
 <text x="218" y="1431">5.0</text><text x="208" y="1454">10.0</text><text x="219" y="1478">3.3</text>
 <text x="444" y="1380">2.0</text><text x="442" y="1404">10.0</text><text x="445" y="1430">3.3</text><text x="442" y="1454">14.3</text><text x="442" y="1477">10.0</text>
 <text x="1044" y="1354">3.3</text><text x="1042" y="1378">14.3</text><text x="1044" y="1402">2.5</text><text x="1039" y="1428">10.0</text><text x="1044" y="1449">5.0</text><text x="1044" y="1474">2.0</text>
 <text x="692" y="1469">5.0</text><text x="828" y="1469">2.5</text><text x="662" y="1529">1.7</text>
</g>
<g stroke="#e01010" stroke-width="2">
 <path d="M258 1412V1427M258 1435V1450M258 1459V1474"/>
 <path d="M487 1361V1376M487 1385V1400M487 1411V1426M487 1435V1450M487 1458V1473"/>
 <path d="M1086 1335V1350M1086 1359V1374M1086 1383V1398M1086 1409V1424M1086 1430V1445M1086 1455V1470"/>
 <path d="M728 1450V1465M864 1450V1465M696 1510V1525"/>
</g>
<g fill="#e01010">
 <polygon points="254,1425 262,1425 258,1433"/><polygon points="254,1448 262,1448 258,1456"/><polygon points="254,1472 262,1472 258,1480"/>
 <polygon points="483,1374 491,1374 487,1382"/><polygon points="483,1398 491,1398 487,1406"/><polygon points="483,1424 491,1424 487,1432"/><polygon points="483,1448 491,1448 487,1456"/><polygon points="483,1471 491,1471 487,1479"/>
 <polygon points="1082,1348 1090,1348 1086,1356"/><polygon points="1082,1372 1090,1372 1086,1380"/><polygon points="1082,1396 1090,1396 1086,1404"/><polygon points="1082,1422 1090,1422 1086,1430"/><polygon points="1082,1443 1090,1443 1086,1451"/><polygon points="1082,1468 1090,1468 1086,1476"/>
 <polygon points="724,1463 732,1463 728,1471"/><polygon points="860,1463 868,1463 864,1471"/><polygon points="692,1523 700,1523 696,1531"/>
</g>
<rect x="931" y="1562" width="11" height="11" fill="#000"/>
<rect x="931" y="1585" width="11" height="10" fill="#1030e0"/>
<text x="982" y="1575" font-size="19">Metabolite</text>
<text x="982" y="1598" font-size="19" fill="#2838c0">Downregulated genes</text>

<!-- fold change bar -->
<text transform="translate(40,1677) rotate(-90)" text-anchor="middle" font-size="20">Fold change</text>
<g>
 <rect x="53" y="1647" width="63.5" height="37" fill="#c8e9fb"/>
 <rect x="115.9" y="1647" width="63.5" height="37" fill="#b9bcf6"/>
 <rect x="178.9" y="1647" width="63.5" height="37" fill="#a6ddfa"/>
 <rect x="241.8" y="1647" width="63.5" height="37" fill="#7fd2f9"/>
 <rect x="304.8" y="1647" width="63.5" height="37" fill="#b9bcf6"/>
 <rect x="367.7" y="1647" width="63.5" height="37" fill="#a6ddfa"/>
 <rect x="430.6" y="1647" width="63.5" height="37" fill="#0c2cf0"/>
 <rect x="493.6" y="1647" width="63.5" height="37" fill="#b9bcf6"/>
 <rect x="556.5" y="1647" width="63.5" height="37" fill="#7fd2f9"/>
 <rect x="619.5" y="1647" width="63.5" height="37" fill="#c8e9fb"/>
 <rect x="682.4" y="1647" width="63.5" height="37" fill="#9fd9fa"/>
 <rect x="745.3" y="1647" width="63.5" height="37" fill="#a6ddfa"/>
 <rect x="808.3" y="1647" width="63.5" height="37" fill="#0c2cf0"/>
 <rect x="871.2" y="1647" width="63.5" height="37" fill="#9fd9fa"/>
 <rect x="934.2" y="1647" width="63.5" height="37" fill="#b9bcf6"/>
 <rect x="997.1" y="1647" width="63.5" height="37" fill="#c8e9fb"/>
 <rect x="1060" y="1647" width="63" height="37" fill="#7fd2f9"/>
</g>
<path d="M84.5 1685v8M147.4 1685v8M210.4 1685v8M273.3 1685v8M336.3 1685v8M399.2 1685v8M462.1 1685v8M525.1 1685v8M588 1685v8M651 1685v8M713.9 1685v8M776.8 1685v8M839.8 1685v8M902.7 1685v8M965.7 1685v8M1028.6 1685v8M1091.5 1685v8" stroke="#333" stroke-width="2"/>
<g font-size="14.5" font-style="italic" text-anchor="middle">
 <text x="84.5" y="1712">ACAT2</text><text x="147.4" y="1712">HMGCS1</text><text x="210.4" y="1712">HMGCR</text><text x="273.3" y="1712">MVK</text>
 <text x="336.3" y="1712">PMVK</text><text x="399.2" y="1712">MVD</text><text x="462.1" y="1712">IDI1</text><text x="525.1" y="1712">FPPS</text>
 <text x="588" y="1712">GGPPS</text><text x="651" y="1712">SQLE</text><text x="713.9" y="1712">LSS</text><text x="776.8" y="1712">CYP51A1</text>
 <text x="839.8" y="1712">TM7SF2</text><text x="902.7" y="1712">MSMO1</text><text x="965.7" y="1712">NSDHL</text><text x="1028.6" y="1712">DHCR7</text><text x="1091.5" y="1712">DHCR24</text>
</g>
<rect x="1150" y="1623" width="20" height="106" fill="url(#gG)"/>
<g font-size="17"><text x="1176" y="1667">10</text><text x="1176" y="1712">5</text></g>

<!-- ============ PANEL H ============ -->
<text x="44" y="1776" text-anchor="middle" font-size="21" font-weight="bold">H</text>
<g fill="#0a0af0">
 <rect x="334" y="1800" width="298" height="24"/>
 <rect x="334" y="1827.1" width="251" height="24"/>
 <rect x="334" y="1854.2" width="215" height="24"/>
 <rect x="334" y="1881.3" width="198" height="24"/>
 <rect x="334" y="1908.4" width="136" height="24"/>
 <rect x="334" y="1935.5" width="130" height="24"/>
 <rect x="334" y="1962.6" width="114" height="24"/>
 <rect x="334" y="1989.7" width="112" height="24"/>
 <rect x="334" y="2016.8" width="97" height="24"/>
 <rect x="334" y="2043.9" width="90" height="24"/>
</g>
<g stroke="#222" stroke-width="1.5" fill="none">
 <path d="M333 1797V2073.5H632"/>
 <path d="M329 1812h4M329 1839.1h4M329 1866.2h4M329 1893.3h4M329 1920.4h4M329 1947.5h4M329 1974.6h4M329 2001.7h4M329 2028.8h4M329 2055.9h4"/>
 <path d="M333 2073v4M384.4 2073v4M435.8 2073v4M487.2 2073v4M538.6 2073v4M590 2073v4"/>
</g>
<g font-size="13" text-anchor="end">
 <text x="324" y="1816.5" textLength="57" lengthAdjust="spacingAndGlyphs" fill="#2b2bb0">Cell cycle</text>
 <text x="324" y="1843.6" textLength="229" lengthAdjust="spacingAndGlyphs">Cellular response to hormone stimulus</text>
 <text x="324" y="1870.7" textLength="265" lengthAdjust="spacingAndGlyphs">Cellular response to reactive oxygen species</text>
 <text x="324" y="1897.8" textLength="114" lengthAdjust="spacingAndGlyphs" fill="#2b2bb0">Response to cAMP</text>
 <text x="324" y="1924.9" textLength="85" lengthAdjust="spacingAndGlyphs" fill="#2b2bb0">Lipid transport</text>
 <text x="324" y="1952" textLength="34" lengthAdjust="spacingAndGlyphs">Aging</text>
 <text x="324" y="1979.1" textLength="180" lengthAdjust="spacingAndGlyphs" fill="#2b2bb0">Cellular lipid catabolic process</text>
 <text x="324" y="2006.2" textLength="147" lengthAdjust="spacingAndGlyphs" fill="#2b2bb0">Cholesterol homeostasis</text>
 <text x="324" y="2033.3" textLength="193" lengthAdjust="spacingAndGlyphs" fill="#2b2bb0">Cholesterol biosynthetic process</text>
 <text x="324" y="2060.4" textLength="96" lengthAdjust="spacingAndGlyphs" fill="#2b2bb0">Cell cycle arrest</text>
</g>
<g font-size="14" text-anchor="middle">
 <text x="333" y="2090">0</text><text x="384.4" y="2090">1</text><text x="435.8" y="2090">2</text><text x="487.2" y="2090">3</text><text x="538.6" y="2090">4</text><text x="590" y="2090">5</text>
 <text x="483" y="2104" textLength="81" lengthAdjust="spacingAndGlyphs">−log10Pvalue</text>
</g>

<!-- ============ PANEL I ============ -->
<text x="703" y="1777" text-anchor="middle" font-size="21" font-weight="bold">I</text>
<!-- MVK -->
<text x="843" y="1855" text-anchor="middle" font-size="17">MVK</text>
<text transform="translate(737,1953) rotate(-90)" text-anchor="middle" font-size="17">Relative expression</text>
<g font-size="18" text-anchor="end">
 <text x="776" y="1864">20</text><text x="776" y="1913">15</text><text x="776" y="1961">10</text><text x="776" y="2009">5</text><text x="776" y="2058">0</text>
</g>
<g stroke="#000" stroke-width="2" fill="none">
 <path d="M784 1858V2052H913"/>
 <path d="M779 1858h5M779 1906.5h5M779 1955h5M779 2003.5h5M779 2052h5"/>
 <path d="M821 2052v6M876 2052v6"/>
</g>
<g stroke="#e8401a" stroke-width="2" fill="none">
 <rect x="802" y="2022" width="37" height="30"/>
 <path d="M820.5 2022V1986M811 1986h19"/>
</g>
<g stroke="#1a44e8" stroke-width="2" fill="none">
 <rect x="858" y="2047" width="36" height="5"/>
 <path d="M876 2047V2041M868 2041h16"/>
</g>
<line x1="819" y1="1904" x2="876" y2="1904" stroke="#000" stroke-width="2.5"/>
<text x="847" y="1906" text-anchor="middle" font-size="16" font-weight="bold">**</text>
<g fill="#e8401a">
 <circle cx="821" cy="1913" r="3.6"/><circle cx="821" cy="1921" r="3.6"/><circle cx="819" cy="1964" r="3.6"/><circle cx="824" cy="1966" r="3.6"/>
 <circle cx="820" cy="1975" r="3.6"/><circle cx="827" cy="2001" r="3.6"/><circle cx="812" cy="2004" r="3.6"/><circle cx="819" cy="2007" r="3.6"/>
 <circle cx="823" cy="2019" r="3.6"/><circle cx="831" cy="2023" r="3.6"/><circle cx="819" cy="2028" r="3.6"/><circle cx="826" cy="2031" r="3.6"/>
 <circle cx="812" cy="2033" r="3.6"/><circle cx="830" cy="2036" r="3.6"/><circle cx="808" cy="2037" r="3.6"/><circle cx="804" cy="2039" r="3.6"/>
 <circle cx="816" cy="2040" r="3.6"/><circle cx="834" cy="2041" r="3.6"/><circle cx="822" cy="2042" r="3.6"/><circle cx="810" cy="2044" r="3.6"/>
 <circle cx="828" cy="2046" r="3.6"/><circle cx="806" cy="2047" r="3.6"/><circle cx="818" cy="2048" r="3.6"/><circle cx="836" cy="2049" r="3.6"/>
 <circle cx="814" cy="2050" r="3.6"/><circle cx="826" cy="2051" r="3.6"/>
</g>
<g fill="#1a44e8">
 <rect x="872.5" y="2029.5" width="7" height="7"/><rect x="878.5" y="2033.5" width="7" height="7"/><rect x="866.5" y="2036.5" width="7" height="7"/>
 <rect x="883.5" y="2038.5" width="7" height="7"/><rect x="860.5" y="2040.5" width="7" height="7"/><rect x="874.5" y="2042.5" width="7" height="7"/>
 <rect x="864.5" y="2044.5" width="7" height="7"/><rect x="886.5" y="2045.5" width="7" height="7"/><rect x="856.5" y="2046.5" width="7" height="7"/>
 <rect x="878.5" y="2047.5" width="7" height="7"/><rect x="888.5" y="2043.5" width="7" height="7"/>
</g>
<g font-size="18" text-anchor="middle"><text x="821" y="2080">≤28</text><text x="876" y="2080">≥38</text></g>

<!-- GGPPS -->
<text x="1055" y="1852" text-anchor="middle" font-size="17">GGPPS</text>
<text transform="translate(943,1950) rotate(-90)" text-anchor="middle" font-size="17">Relative expression</text>
<g font-size="18" text-anchor="end">
 <text x="984" y="1860">15</text><text x="984" y="1926">10</text><text x="984" y="1991">5</text><text x="984" y="2056">0</text>
</g>
<g stroke="#000" stroke-width="2" fill="none">
 <path d="M992 1854V2050H1121"/>
 <path d="M987 1854h5M987 1919.3h5M987 1984.7h5M987 2050h5"/>
 <path d="M1029 2050v6M1084 2050v6"/>
</g>
<g stroke="#e8401a" stroke-width="2" fill="none">
 <rect x="1010" y="2020" width="38" height="30"/>
 <path d="M1029 2020V1985M1020 1985h18"/>
</g>
<g stroke="#1a44e8" stroke-width="2" fill="none">
 <rect x="1066" y="2042" width="37" height="8"/>
 <path d="M1084.5 2042V2024M1076 2024h17"/>
</g>
<line x1="1026" y1="1877" x2="1085" y2="1877" stroke="#000" stroke-width="2.5"/>
<text x="1055" y="1879" text-anchor="middle" font-size="16" font-weight="bold">*</text>
<g fill="#e8401a">
 <circle cx="1029" cy="1897" r="3.6"/><circle cx="1030" cy="1953" r="3.6"/><circle cx="1027" cy="1964" r="3.6"/><circle cx="1029" cy="1985" r="3.6"/>
 <circle cx="1028" cy="1994" r="3.6"/><circle cx="1031" cy="1998" r="3.6"/><circle cx="1030" cy="2011" r="3.6"/><circle cx="1027" cy="2016" r="3.6"/>
 <circle cx="1032" cy="2023" r="3.6"/><circle cx="1026" cy="2025" r="3.6"/><circle cx="1036" cy="2029" r="3.6"/><circle cx="1021" cy="2036" r="3.6"/>
 <circle cx="1040" cy="2040" r="3.6"/><circle cx="1015" cy="2042" r="3.6"/><circle cx="1030" cy="2043" r="3.6"/><circle cx="1044" cy="2045" r="3.6"/>
 <circle cx="1012" cy="2046" r="3.6"/><circle cx="1024" cy="2047" r="3.6"/><circle cx="1036" cy="2047" r="3.6"/><circle cx="1018" cy="2049" r="3.6"/>
</g>
<g fill="#1a44e8">
 <rect x="1080.5" y="1975.5" width="7" height="7"/><rect x="1080.5" y="2030.5" width="7" height="7"/><rect x="1076.5" y="2034.5" width="7" height="7"/>
 <rect x="1086.5" y="2038.5" width="7" height="7"/><rect x="1068.5" y="2041.5" width="7" height="7"/><rect x="1092.5" y="2042.5" width="7" height="7"/>
 <rect x="1074.5" y="2043.5" width="7" height="7"/><rect x="1084.5" y="2045.5" width="7" height="7"/><rect x="1064.5" y="2043.5" width="7" height="7"/>
</g>
<g font-size="18" text-anchor="middle"><text x="1029" y="2078">≤28</text><text x="1084" y="2078">≥38</text></g>

</svg>
</body></html>
